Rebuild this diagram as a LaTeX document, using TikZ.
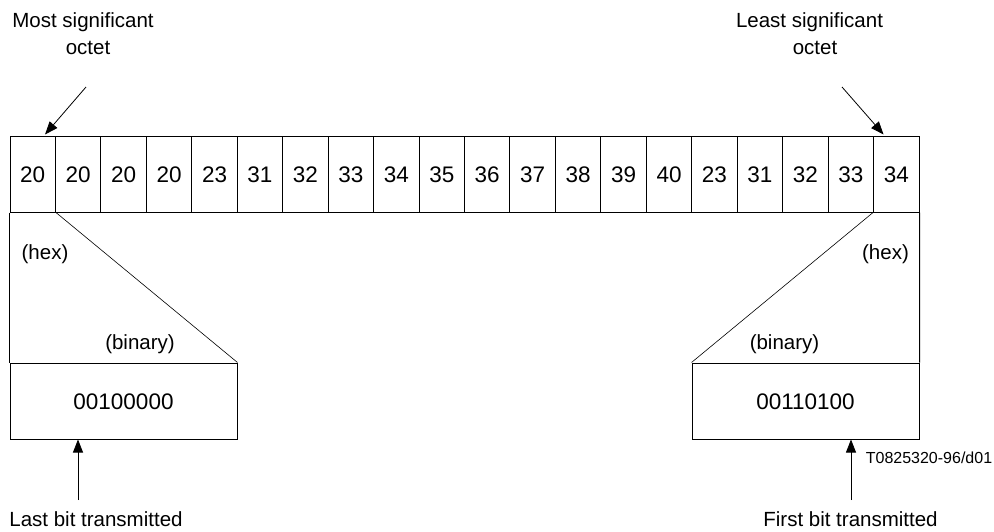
\documentclass[tikz,border=0pt]{standalone}
\usepackage{fontspec}
\setmainfont{Liberation Sans}
\usetikzlibrary{arrows.meta,calc}
\begin{document}
\begin{tikzpicture}[x=1pt,y=-1pt,
  cell/.style={draw,line width=1pt,rectangle,inner sep=0pt,minimum width=45.45pt,minimum height=76pt,font=\fontsize{22.5}{26}\selectfont,text height=16pt,text depth=0pt},
  binbox/.style={draw,line width=1pt,rectangle,inner sep=0pt,minimum width=227pt,minimum height=76pt,font=\fontsize{22.5}{26}\selectfont,text height=16pt,text depth=0pt},
  lbl/.style={anchor=base,inner sep=0pt,font=\fontsize{20.5}{24}\selectfont},
  small/.style={anchor=base,inner sep=0pt,font=\fontsize{16}{19}\selectfont},
  edge/.style={line width=1pt},
  thin/.style={line width=0.6pt},
  arr/.style={line width=0.8pt,-{Triangle[length=13pt,width=10pt]}}]
\useasboundingbox (0,0) rectangle (994,531);
\foreach \v [count=\i] in {20,20,20,20,23,31,32,33,34,35,36,37,38,39,40,23,31,32,33,34}{
  \node[cell] (c\i) at ({10+45.45*(\i-0.5)},174) {\v};
}
\node[binbox] (bl) at (123.5,401) {00100000};
\node[binbox] (br) at (805.5,401) {00110100};
\draw[edge] (c1.south west) -- (bl.north west);
\draw[thin] (c1.south east) -- (bl.north east);
\draw[edge] (c20.south east) -- (br.north east);
\draw[thin] (c20.south west) -- (br.north west);
% labels
\node[lbl] (ms1) at (83,27) {Most significant};
\node[lbl] (ms2) at (88,54) {octet};
\node[lbl] (ls1) at (809.5,27) {Least significant};
\node[lbl] (ls2) at (815,54) {octet};
\node[lbl] (hl) at (45,259) {(hex)};
\node[lbl] (bnl) at (140,349) {(binary)};
\node[lbl] (hr) at (885.5,259) {(hex)};
\node[lbl] (bnr) at (784.5,349) {(binary)};
\node[lbl] (last) at (96,526) {Last bit transmitted};
\node[lbl] (first) at (850.5,526) {First bit transmitted};
\node[small] (ref) at (929,463) {T0825320-96/d01};
% arrows
\coordinate (msa) at (86,87);
\coordinate (lsa) at (842,87);
\draw[arr] (msa) -- ($(c1.north)+(12.3,-1)$);
\draw[arr] (lsa) -- ($(c20.north)+(-12.7,-1)$);
\coordinate (la) at (78,500);
\coordinate (fa) at (851,500);
\draw[arr] (la) -- (la |- bl.south);
\draw[arr] (fa) -- (fa |- br.south);
\end{tikzpicture}
\end{document}
